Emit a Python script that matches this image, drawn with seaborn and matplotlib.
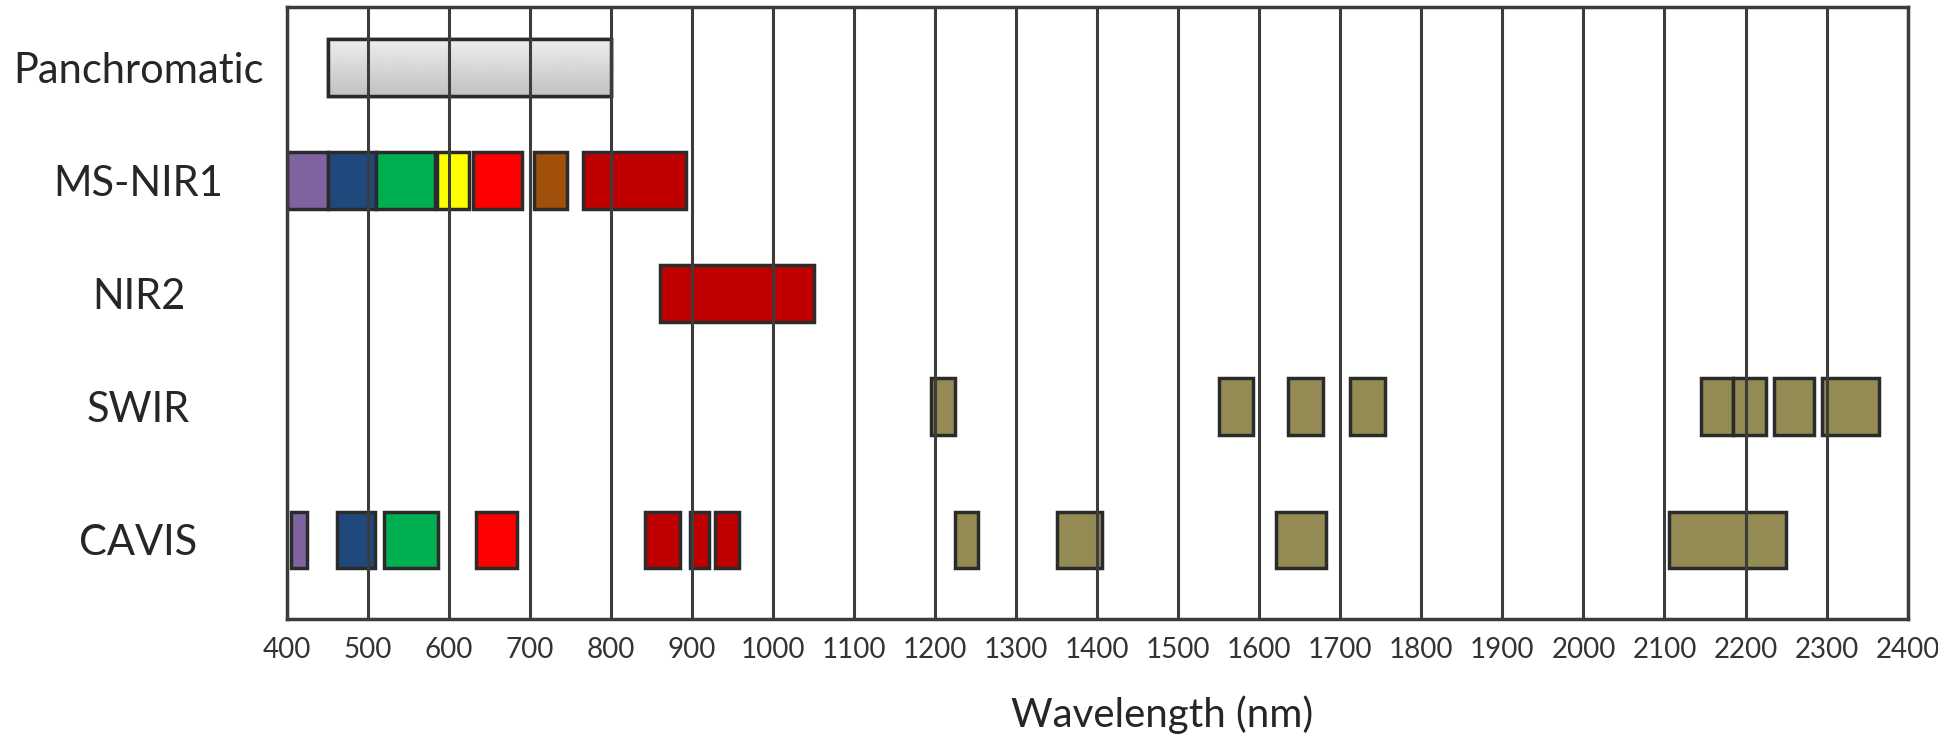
import matplotlib
matplotlib.use("Agg")
import matplotlib.pyplot as plt
import numpy as np
import seaborn as sns

sns.set_theme(style="white")
plt.rcParams["font.family"] = ["Lato", "DejaVu Sans"]

# sensors (top to bottom)
sensors = ["Panchromatic", "MS-NIR1", "NIR2", "SWIR", "CAVIS"]

# band edges in nm
pan_lo = [450]
pan_hi = [800]

ms_lo = [400, 450, 510, 585, 630, 705, 765]
ms_hi = [450, 510, 583, 625, 690, 745, 892]

nir2_lo = [860]
nir2_hi = [1050]

swir_lo = [1195, 1550, 1635, 1712, 2145, 2185, 2235, 2295]
swir_hi = [1225, 1592, 1678, 1755, 2185, 2225, 2285, 2365]

cavis_lo = [405, 462, 520, 633, 842, 897, 928, 1224, 1350, 1620, 2105]
cavis_hi = [425, 509, 586, 684, 885, 921, 958, 1253, 1406, 1682, 2250]

wl_ticks = list(range(400, 2401, 100))

# colours
ms_colors = ["#8064a2", "#1f497d", "#00b050", "#ffff00", "#ff0000", "#a0500a", "#c00000"]
cavis_colors = ["#8064a2", "#1f497d", "#00b050", "#ff0000", "#c00000", "#c00000", "#c00000",
                "#948a54", "#948a54", "#948a54", "#948a54"]
nir2_color = "#c00000"
swir_color = "#948a54"

# layout: row centres (CAVIS sits a bit lower), bar thickness
row_y = [0, 1, 2, 3, 4.18]
bar_h = 0.5
edge = "#2b2b2b"

fig = plt.figure(figsize=(19.38, 7.4), dpi=100)
ax = fig.add_axes([0.1481, 0.1635, 0.8362, 0.827])

# panchromatic with a soft grey gradient
pan = ax.barh(row_y[0], np.subtract(pan_hi, pan_lo), left=pan_lo, height=bar_h,
              color="#d8d8d8", edgecolor=edge, linewidth=2.5, zorder=1.2)
grad = np.linspace(0.93, 0.76, 64).reshape(-1, 1)
im = ax.imshow(grad, cmap="gray", vmin=0, vmax=1, aspect="auto", zorder=1.3,
               extent=[pan_lo[0], pan_hi[0], row_y[0] + bar_h / 2, row_y[0] - bar_h / 2])
im.set_clip_path(pan.patches[0])
ax.barh(row_y[0], np.subtract(pan_hi, pan_lo), left=pan_lo, height=bar_h,
        color="none", edgecolor=edge, linewidth=2.5, zorder=1.4)

ax.barh([row_y[1]] * len(ms_lo), np.subtract(ms_hi, ms_lo), left=ms_lo, height=bar_h,
        color=ms_colors, edgecolor=edge, linewidth=2.5, zorder=1.2)
ax.barh([row_y[2]] * len(nir2_lo), np.subtract(nir2_hi, nir2_lo), left=nir2_lo, height=bar_h,
        color=nir2_color, edgecolor=edge, linewidth=2.5, zorder=1.2)
ax.barh([row_y[3]] * len(swir_lo), np.subtract(swir_hi, swir_lo), left=swir_lo, height=bar_h,
        color=swir_color, edgecolor=edge, linewidth=2.5, zorder=1.2)
ax.barh([row_y[4]] * len(cavis_lo), np.subtract(cavis_hi, cavis_lo), left=cavis_lo, height=bar_h,
        color=cavis_colors, edgecolor=edge, linewidth=2.5, zorder=1.2)

ax.set_xlim(400, 2400)
ax.set_ylim(4.88, -0.535)
ax.set_xticks(wl_ticks)
ax.set_xticklabels([str(t) for t in wl_ticks], fontsize=20, color="#333333")
ax.set_yticks(row_y)
ax.set_yticklabels(sensors, fontsize=30, color="#262626", ha="center")
ax.tick_params(axis="y", length=0, pad=107)
ax.tick_params(axis="x", length=0, pad=13)

ax.set_axisbelow(False)
ax.grid(axis="x", color="#3c3c3c", linewidth=2.2)
ax.grid(axis="y", visible=False)
for s in ax.spines.values():
    s.set_color("#3c3c3c")
    s.set_linewidth(2.5)

ax.set_xlabel("Wavelength (nm)", fontsize=29, color="#262626")
ax.xaxis.set_label_coords(0.54, -0.125)

fig.savefig("out.png", dpi=100)
